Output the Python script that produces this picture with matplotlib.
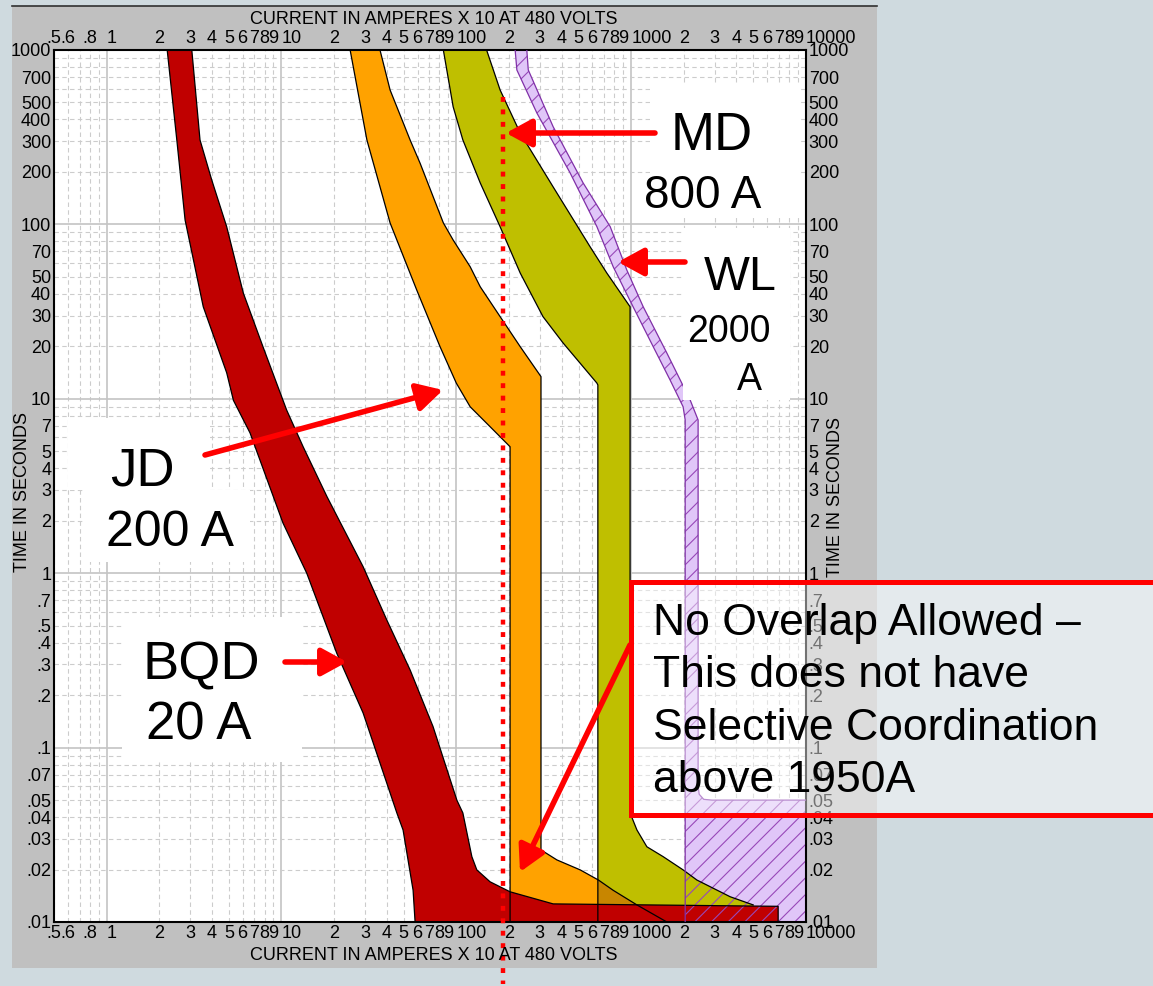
import matplotlib.pyplot as plt
from matplotlib.patches import Rectangle, FancyArrowPatch
from matplotlib.lines import Line2D
from matplotlib.ticker import FixedLocator, FixedFormatter
from matplotlib.transforms import Affine2D

# Time-current bands: current in amperes x10 at 480 V, time in seconds
bqd_left_amps = [2.22, 2.52, 2.81, 3.57, 4.86, 5.31, 6.61, 10.2, 13.95, 20.7, 29.3, 45.7, 49.6, 56.6, 58.1]
bqd_left_sec = [1000, 305, 106, 33.7, 14.1, 9.8, 6.37, 1.94, 1.0, 0.348, 0.158, 0.0422, 0.0337, 0.0152, 0.01]
bqd_right_amps = [3.07, 3.42, 3.99, 4.86, 6.05, 7.85, 10.7, 13.3, 18.2, 29.3, 40.0, 54.4, 73.6, 100.7,
                  109, 122.7, 131, 156, 203, 358, 6930]
bqd_right_sec = [1000, 305, 180, 97, 40.4, 19.8, 8.63, 5.31, 2.75, 1.09, 0.54, 0.279, 0.132, 0.050,
                 0.0422, 0.0237, 0.0199, 0.0170, 0.0149, 0.0127, 0.0123]

jd_left_amps = [24.7, 30.8, 41.8, 59.4, 80.7, 100, 120, 156, 203, 203]
jd_left_sec = [1000, 305, 102, 42, 19.9, 12.3, 9.0, 6.92, 5.31, 0.01]
jd_right_amps = [36.6, 41.8, 54.4, 62.1, 84.3, 95.9, 120, 137, 178, 232, 305, 305, 376, 511, 650, 789, 1079, 1600]
jd_right_sec = [1000, 590, 305, 224, 102, 81.4, 57.2, 43.9, 29.6, 19.9, 13.4, 0.0259, 0.0227, 0.0199,
                0.0174, 0.0152, 0.01253, 0.01]

md_left_amps = [84.3, 95.9, 109, 137, 178, 232, 313, 408, 637, 645, 645]
md_left_sec = [1000, 473, 305, 173, 97, 52.6, 29.6, 20.9, 12.3, 12.0, 0.01]
md_right_amps = [149, 178, 232, 358, 582, 726, 986, 986, 1079, 1230, 1524, 1982, 2377, 3681, 4989]
md_right_sec = [1000, 590, 334, 164, 74.5, 52.6, 33.7, 0.0422, 0.0337, 0.0270, 0.0237, 0.0199, 0.0174,
                0.01396, 0.01253]

wl_left_amps = [217, 222, 289, 448, 637, 789, 1026, 1337, 1671, 1982, 2037, 2037]
wl_left_sec = [1000, 768, 435, 197, 97, 57.2, 33.7, 19.9, 12.8, 9.0, 7.56, 0.01]
wl_right_amps = [253, 258, 358, 531, 759, 944, 1172, 1600, 2174, 2415, 2415, 2450, 2600, 2900, 10000]
wl_right_sec = [1000, 768, 363, 173, 97, 54.8, 33.7, 18.3, 9.85, 7.56, 0.06, 0.054, 0.0505, 0.05, 0.05]

# JD tail lying over the MD band
overlap_amps = [645, 789, 1079, 1079, 645]
overlap_sec = [0.0176, 0.0152, 0.01253, 0.012, 0.012]

limit_amps = 185          # dotted line (1950 A)
limit_sec = [537, 0.0044]

x_major = [1, 10, 100, 1000, 10000]
x_major_labels = ['1', '10', '100', '1000', '10000']
x_minor = [0.5, 0.6, 0.7, 0.8, 0.9] + [d * k for d in (1, 10, 100, 1000) for k in range(2, 10)]
x_minor_labels = ['.5', '.6', '', '.8', ''] + [str(k) for d in range(4) for k in range(2, 10)]

y_major = [0.01, 0.1, 1, 10, 100, 1000]
y_major_labels = ['.01', '.1', '1', '10', '100', '1000']
y_minor = [d * k for d in (0.01, 0.1, 1, 10, 100) for k in range(2, 10)]
shown = (2, 3, 4, 5, 7)
y_minor_labels = ([('.0%d' % k) if k in shown else '' for k in range(2, 10)] +
                  [('.%d' % k) if k in shown else '' for k in range(2, 10)] +
                  [str(k) if k in shown else '' for k in range(2, 10)] +
                  [str(k * 10) if k in shown else '' for k in range(2, 10)] +
                  [str(k * 100) if k in shown else '' for k in range(2, 10)])

plt.rcParams['font.family'] = ['Liberation Sans', 'DejaVu Sans']
plt.rcParams['hatch.linewidth'] = 0.8

W, H = 1153, 986
fig = plt.figure(figsize=(W / 100, H / 100), dpi=100, facecolor='#cfdadf')
pix = Affine2D().scale(1 / W, -1 / H).translate(0, 1) + fig.transFigure

# gray program window
fig.add_artist(Rectangle((12, 6), 865, 962, transform=pix, fc='#c0c0c0', ec='none', zorder=-2))
fig.add_artist(Line2D([12, 877], [6, 6], transform=pix, color='#303030', lw=1.2, zorder=-1))

ax = fig.add_axes([54 / W, 1 - 922 / H, 752 / W, 872 / H])
ax.set_xscale('log')
ax.set_yscale('log')
ax.set_xlim(0.5, 10000)
ax.set_ylim(0.01, 1000)
ax.set_facecolor('white')
ax.set_axisbelow(True)

ax.xaxis.set_major_locator(FixedLocator(x_major))
ax.xaxis.set_major_formatter(FixedFormatter(x_major_labels))
ax.xaxis.set_minor_locator(FixedLocator(x_minor))
ax.xaxis.set_minor_formatter(FixedFormatter(x_minor_labels))
ax.yaxis.set_major_locator(FixedLocator(y_major))
ax.yaxis.set_major_formatter(FixedFormatter(y_major_labels))
ax.yaxis.set_minor_locator(FixedLocator(y_minor))
ax.yaxis.set_minor_formatter(FixedFormatter(y_minor_labels))
ax.tick_params(which='both', length=0, labelsize=13, pad=2,
               top=True, right=True, labeltop=True, labelright=True)
# decade labels start at their gridline, as in the program
for t in ax.xaxis.get_major_ticks():
    t.label1.set_horizontalalignment('left')
    t.label2.set_horizontalalignment('left')
ax.grid(which='major', color='#c4c4c4', lw=1.2, ls='-')
ax.grid(which='minor', color='#cccccc', lw=0.8, ls=(0, (4, 3)))
for s in ax.spines.values():
    s.set_linewidth(1.5)
    s.set_color('black')

# fills
ax.fill(wl_left_amps + [wl_right_amps[-1]] + wl_right_amps[::-1],
        wl_left_sec + [0.01] + wl_right_sec[::-1], color='#e0c6f8', lw=0, zorder=2)
ax.fill(jd_left_amps + jd_right_amps[::-1], jd_left_sec + jd_right_sec[::-1],
        color='#ffa200', lw=0, zorder=2)
ax.fill(md_left_amps + [md_right_amps[-1]] + md_right_amps[::-1],
        md_left_sec + [0.01] + md_right_sec[::-1], color='#bfbf00', lw=0, zorder=2)
ax.fill(overlap_amps, overlap_sec, color='#c88600', lw=0, zorder=2)
ax.fill(bqd_left_amps + [bqd_right_amps[-1]] + bqd_right_amps[::-1],
        bqd_left_sec + [0.01] + bqd_right_sec[::-1], color='#c00000', lw=0, zorder=2)
ax.fill(wl_left_amps + [wl_right_amps[-1]] + wl_right_amps[::-1],
        wl_left_sec + [0.01] + wl_right_sec[::-1], facecolor='none', edgecolor='#9848b8',
        hatch='//', lw=0, zorder=2.5)

# outlines
ax.plot(bqd_left_amps, bqd_left_sec, color='black', lw=0.9, zorder=3)
ax.plot(bqd_right_amps + [bqd_right_amps[-1]], bqd_right_sec + [0.01], color='black', lw=0.9, zorder=3)
ax.plot(jd_left_amps, jd_left_sec, color='black', lw=0.9, zorder=3)
ax.plot(jd_right_amps, jd_right_sec, color='black', lw=0.9, zorder=3)
ax.plot(md_left_amps, md_left_sec, color='black', lw=0.9, zorder=3)
ax.plot(md_right_amps, md_right_sec, color='black', lw=0.9, zorder=3)
ax.plot(wl_left_amps, wl_left_sec, color='#8030a8', lw=0.9, zorder=3)
ax.plot(wl_right_amps, wl_right_sec, color='#8030a8', lw=0.9, zorder=3)

ax.plot([limit_amps, limit_amps], limit_sec, color='#ff0000', lw=3.2,
        ls=(0, (1.1, 1.7)), dash_capstyle='butt', zorder=4, clip_on=False)

# axis titles
title = 'CURRENT IN AMPERES X 10 AT 480 VOLTS'
fig.text(434, 20, title, transform=pix, ha='center', va='center', fontsize=13)
fig.text(434, 955, title, transform=pix, ha='center', va='center', fontsize=13)
fig.text(23, 492, 'TIME IN SECONDS', transform=pix, ha='center', va='center', rotation=90, fontsize=13)
fig.text(836, 497, 'TIME IN SECONDS', transform=pix, ha='center', va='center', rotation=90, fontsize=13)

# white label boxes
for x0, y0, w, h in [(650, 83, 150, 132), (683, 228, 107, 172), (68, 418, 139, 72),
                     (85, 490, 165, 72), (122, 617, 180, 145)]:
    fig.add_artist(Rectangle((x0, y0), w, h, transform=pix, fc='white', ec='none', zorder=3))

labels = [('MD', 712, 150, 38), ('800 A', 703, 208, 33), ('WL', 740, 290, 35),
          ('2000', 729, 342, 27), ('A', 749, 390, 27), ('JD', 142, 485, 38),
          ('200 A', 170, 546, 36), ('BQD', 201, 679, 39), ('20 A', 199, 740, 38)]
for s, x, y, fs in labels:
    fig.text(x, y, s, transform=pix, ha='center', va='baseline', fontsize=fs, zorder=4)

arrows = [((655, 133), (506, 133)), ((685, 262), (618, 262)), ((205, 455), (443, 390)),
          ((285, 662), (347, 662)), ((630, 645), (520, 872))]
for a, b in arrows:
    fig.add_artist(FancyArrowPatch(a, b, transform=pix, arrowstyle='-|>,head_length=1.1,head_width=0.6',
                                   mutation_scale=14, color='#ff0000', lw=4, shrinkA=0, shrinkB=0,
                                   zorder=5))

# callout box
fig.add_artist(Rectangle((631, 582), 540, 233, transform=pix, fc=(1, 1, 1, 0.45),
                         ec='#ff0000', lw=3.6, zorder=4))
note = ['No Overlap Allowed \u2013', 'This does not have', 'Selective Coordination', 'above 1950A']
for i, line in enumerate(note):
    fig.text(653, 635 + 52.3 * i, line, transform=pix, ha='left', va='baseline', fontsize=32, zorder=5)

fig.savefig('out.png', dpi=100, facecolor=fig.get_facecolor())
